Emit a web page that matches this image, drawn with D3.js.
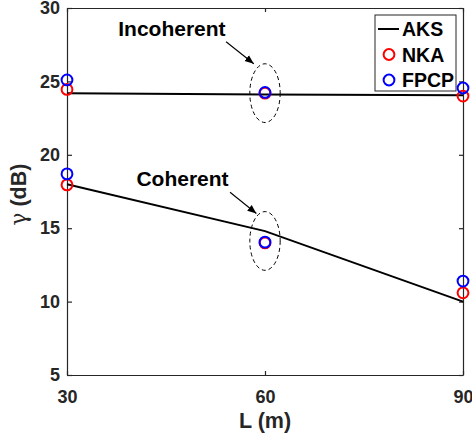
<!DOCTYPE html>
<html>
<head>
<meta charset="utf-8">
<script src="https://cdn.jsdelivr.net/npm/d3@7"></script>
<style>
  html, body { margin: 0; padding: 0; background: #fff; }
  svg { display: block; }
  text { font-family: "Liberation Sans", Arial, Helvetica, sans-serif; font-weight: bold; }
</style>
</head>
<body>
<svg id="chart" width="472" height="441"></svg>
<script>
// Link length L (m)
const lengths = [30, 60, 90];

// SNR gamma (dB) per scheme, incoherent and coherent cases
const aksIncoherent  = [24.2, 24.1, 24.05];
const nkaIncoherent  = [24.45, 24.2, 24.0];
const fpcpIncoherent = [25.1, 24.25, 24.55];

const aksCoherent  = [18.0, 14.8, 10.0];
const nkaCoherent  = [17.95, 14.0, 10.6];
const fpcpCoherent = [18.7, 14.05, 11.4];

const xTicks = [30, 60, 90];
const yTicks = [5, 10, 15, 20, 25, 30];

// Annotations: label, text anchor point, arrow start/tip and ellipse centre (data units)
const notes = [
  { label: "Incoherent", text: [45.9, 28.09], from: [54.1, 27.7], to: [58.3, 26.2], centre: [60, 24.2] },
  { label: "Coherent",   text: [47.5, 17.87], from: [54.7, 17.45], to: [58.7, 16.0], centre: [60, 14.13] }
];
const ellipseR = [2.3, 2.0]; // half-width (m), half-height (dB)

const margin = { left: 67, right: 9, top: 8, bottom: 66 };
const W = 472, H = 441;
const svg = d3.select("#chart");

const x = d3.scaleLinear().domain([30, 90]).range([margin.left, W - margin.right]);
const y = d3.scaleLinear().domain([5, 30]).range([H - margin.bottom, margin.top]);

const axisColor = "#262626";
const tickFs = 18;
const labelFs = 21.5;
const legendFs = 19.5;

// arrow head marker
svg.append("defs").append("marker")
  .attr("id", "arrowHead")
  .attr("viewBox", "0 0 10 10")
  .attr("refX", 10).attr("refY", 5)
  .attr("markerWidth", 9).attr("markerHeight", 9)
  .attr("markerUnits", "userSpaceOnUse")
  .attr("orient", "auto")
  .append("path").attr("d", "M0,1 L10,5 L0,9 Z").attr("fill", "#000");

// axes with inward ticks
const gx = svg.append("g").attr("transform", `translate(0,${y(5)})`)
  .call(d3.axisBottom(x).tickValues(xTicks).tickSizeInner(-4).tickSizeOuter(0).tickPadding(11));
const gxTop = svg.append("g").attr("transform", `translate(0,${y(30)})`)
  .call(d3.axisTop(x).tickValues(xTicks).tickSizeInner(-4).tickSizeOuter(0).tickFormat(""));
const gy = svg.append("g").attr("transform", `translate(${x(30)},0)`)
  .call(d3.axisLeft(y).tickValues(yTicks).tickSizeInner(-5).tickSizeOuter(0).tickPadding(7));
const gyRight = svg.append("g").attr("transform", `translate(${x(90)},0)`)
  .call(d3.axisRight(y).tickValues(yTicks).tickSizeInner(-4).tickSizeOuter(0).tickFormat(""));

[gx, gxTop, gy, gyRight].forEach(g => {
  g.select(".domain").attr("stroke", axisColor).attr("stroke-width", 1.2);
  g.selectAll(".tick line").attr("stroke", axisColor).attr("stroke-width", 1.2);
  g.selectAll(".tick text").attr("fill", axisColor).style("font-size", tickFs + "px")
    .style("font-family", "'Liberation Sans', Arial, sans-serif").style("font-weight", "bold");
});
gx.selectAll(".tick text").attr("dy", "0.95em");

// axis titles
svg.append("text")
  .attr("x", x(60)).attr("y", 428)
  .attr("text-anchor", "middle").attr("fill", axisColor)
  .style("font-size", labelFs + "px").text("L (m)");

const yl = svg.append("text")
  .attr("transform", `translate(26,${(y(5) + y(30)) / 2 + 3}) rotate(-90)`)
  .attr("text-anchor", "middle").attr("fill", axisColor)
  .style("font-size", labelFs + "px");
yl.append("tspan").style("font-weight", "normal").style("font-family", "'DejaVu Serif', serif").text("γ");
yl.append("tspan").text(" (dB)");

// series
const line = d3.line().x((d, i) => x(lengths[i])).y(d => y(d));
[aksIncoherent, aksCoherent].forEach(s => {
  svg.append("path").datum(s).attr("d", line)
    .attr("fill", "none").attr("stroke", "#000").attr("stroke-width", 2);
});

const r = 5.4;
function drawMarkers(series, colour) {
  svg.append("g").selectAll("circle").data(series).join("circle")
    .attr("cx", (d, i) => x(lengths[i])).attr("cy", d => y(d)).attr("r", r)
    .attr("fill", "none").attr("stroke", colour).attr("stroke-width", 2);
}
drawMarkers(nkaIncoherent, "#ff0000");
drawMarkers(nkaCoherent, "#ff0000");
drawMarkers(fpcpIncoherent, "#0000ff");
drawMarkers(fpcpCoherent, "#0000ff");

// annotations
notes.forEach(n => {
  svg.append("ellipse")
    .attr("cx", x(n.centre[0])).attr("cy", y(n.centre[1]))
    .attr("rx", x(30 + ellipseR[0]) - x(30)).attr("ry", y(5) - y(5 + ellipseR[1]))
    .attr("fill", "none").attr("stroke", "#000").attr("stroke-width", 1)
    .attr("stroke-dasharray", "4,3");
  svg.append("line")
    .attr("x1", x(n.from[0])).attr("y1", y(n.from[1]))
    .attr("x2", x(n.to[0])).attr("y2", y(n.to[1]))
    .attr("stroke", "#000").attr("stroke-width", 1.1)
    .attr("marker-end", "url(#arrowHead)");
  svg.append("text")
    .attr("x", x(n.text[0])).attr("y", y(n.text[1]))
    .attr("text-anchor", "middle").attr("fill", "#000")
    .style("font-size", "21px").text(n.label);
});

// legend
const legendItems = [
  { name: "AKS", type: "line", colour: "#000" },
  { name: "NKA", type: "circle", colour: "#ff0000" },
  { name: "FPCP", type: "circle", colour: "#0000ff" }
];
const lg = svg.append("g").attr("transform", "translate(375,15)");
lg.append("rect").attr("width", 81).attr("height", 76)
  .attr("fill", "#fff").attr("stroke", axisColor).attr("stroke-width", 1);
legendItems.forEach((d, i) => {
  const cy = 14 + i * 25.5;
  if (d.type === "line") {
    lg.append("line").attr("x1", 3).attr("x2", 24).attr("y1", cy).attr("y2", cy)
      .attr("stroke", d.colour).attr("stroke-width", 2);
  } else {
    lg.append("circle").attr("cx", 14).attr("cy", cy).attr("r", r)
      .attr("fill", "none").attr("stroke", d.colour).attr("stroke-width", 2);
  }
  lg.append("text").attr("x", 27).attr("y", cy).attr("dy", "0.36em")
    .attr("fill", "#000").style("font-size", legendFs + "px").text(d.name);
});
</script>
</body>
</html>
